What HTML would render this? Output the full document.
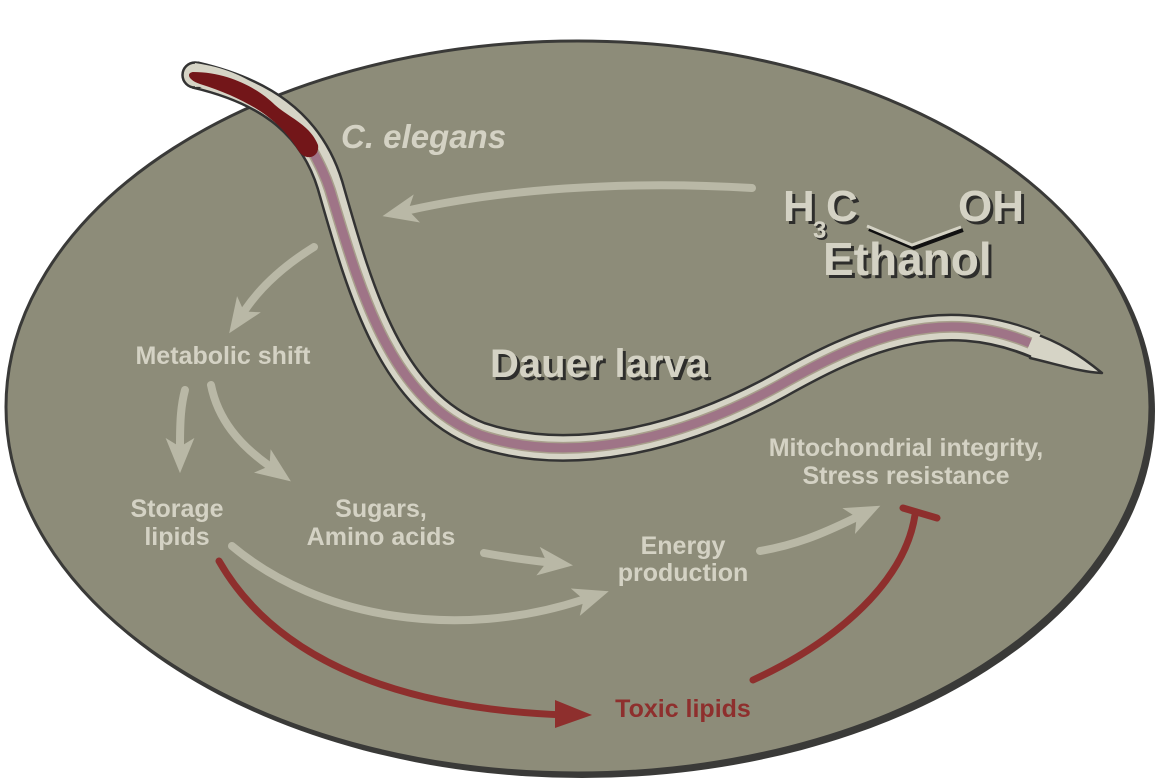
<!DOCTYPE html>
<html><head><meta charset="utf-8"><style>
html,body{margin:0;padding:0;background:#fff;}
svg{display:block;}
text{font-family:"Liberation Sans",Arial,sans-serif;font-weight:bold;}
</style></head><body>
<svg width="1157" height="781" viewBox="0 0 1157 781" xmlns="http://www.w3.org/2000/svg">
<defs>
<marker id="ag" markerWidth="4.4" markerHeight="3.6" refX="2" refY="5" orient="auto" markerUnits="strokeWidth" viewBox="0 0 10 10" preserveAspectRatio="none"><path d="M0,0 L10,5 L0,10 L2.5,5 Z" fill="#b9b8a6"/></marker>
</defs>
<ellipse cx="582" cy="411" rx="573" ry="367" fill="#3a3a38"/>
<ellipse cx="578" cy="407" rx="572" ry="366" fill="#8d8c79" stroke="#3a3a38" stroke-width="3"/>

<!-- worm -->
<path d="M1030,332 C1060,342 1080,355 1102,373 C1080,372 1060,365 1030,358 Z" fill="#d6d4c6" stroke="#333" stroke-width="2.5" stroke-linejoin="round"/>
<g fill="none" stroke-linecap="butt">
<path d="M195,75 C260,90 310,120 330,185 C360,290 390,400 480,435 C570,465 680,440 780,385 C860,340 940,305 1035,345" stroke="#333" stroke-width="28"/>
<path d="M195,75 C260,90 310,120 330,185 C360,290 390,400 480,435 C570,465 680,440 780,385 C860,340 940,305 1036,345" stroke="#d6d4c6" stroke-width="23"/>
<path d="M312,150 C320,165 325,175 330,190 C360,290 390,400 480,435 C570,465 680,440 780,385 C860,340 940,305 1030,343" stroke="#a89f8c" stroke-width="12"/>
<path d="M312,150 C320,165 325,175 330,190 C360,290 390,400 480,435 C570,465 680,440 780,385 C860,340 940,305 1030,343" stroke="#9f7487" stroke-width="9"/>
</g>
<path d="M188,70 C185,66 195,62 205,64" fill="none" stroke="#333" stroke-width="1"/>
<circle cx="195" cy="75" r="12.5" fill="#d6d4c6" stroke="#333" stroke-width="2.5"/>
<path d="M195,63 C230,68 250,80 260,88 L250,103 C230,92 210,86 195,87 Z" fill="#d6d4c6"/>
<path d="M193,72 C230,72 260,90 275,105 C290,118 310,125 318,145 C320,158 305,162 298,150 C280,120 250,100 200,84 C188,80 186,73 193,72 Z" fill="#731619"/>

<!-- arrows -->
<g fill="none" stroke="#b9b8a6" stroke-width="8" stroke-linecap="round">
<path d="M752,188 C620,180 500,190 410,210" marker-end="url(#ag)"/>
<path d="M314,247 C285,265 262,285 245,310" marker-end="url(#ag)"/>
<path d="M185,390 C181,405 180,420 180,445" marker-end="url(#ag)"/>
<path d="M211,385 C218,420 240,445 268,465" marker-end="url(#ag)"/>
<path d="M484,553 C505,557 520,559 545,562" marker-end="url(#ag)"/>
<path d="M232,546 C320,620 460,640 582,600" marker-end="url(#ag)"/>
<path d="M760,551 C795,545 820,535 855,518" marker-end="url(#ag)"/>
</g>
<!-- red arrows -->
<g fill="none" stroke="#8e2f2d" stroke-width="7" stroke-linecap="round">
<path d="M219,561 C270,650 380,708 565,715"/>
<path d="M753,680 C840,640 905,580 915,515"/>
<path d="M903,508 L937,518"/>
</g>
<path d="M555,700 L592,715 L555,728 Z" fill="#8e2f2d"/>

<!-- labels -->
<g fill="#d4d2c4" font-size="25" text-anchor="middle">
<text x="223" y="364">Metabolic shift</text>
<text x="177" y="517">Storage</text>
<text x="177" y="545">lipids</text>
<text x="381" y="517">Sugars,</text>
<text x="381" y="545">Amino acids</text>
<text x="683" y="554">Energy</text>
<text x="683" y="581">production</text>
<text x="906" y="456">Mitochondrial integrity,</text>
<text x="906" y="484">Stress resistance</text>
</g>
<text x="683" y="717" fill="#8e2f2d" font-size="25" text-anchor="middle">Toxic lipids</text>
<text x="341" y="148" fill="#d4d2c4" font-size="33" font-style="italic">C. elegans</text>

<g font-size="40">
<text x="493" y="380" fill="#2e2e2c">Dauer larva</text>
<text x="490" y="377" fill="#d4d2c4">Dauer larva</text>
</g>
<g font-size="44">
<text x="786" y="224" fill="#2e2e2c">H</text><text x="783" y="221" fill="#d4d2c4">H</text>
<text x="829" y="224" fill="#2e2e2c">C</text><text x="826" y="221" fill="#d4d2c4">C</text>
<text x="961" y="224" fill="#2e2e2c">OH</text><text x="958" y="221" fill="#d4d2c4">OH</text>
</g>
<g font-size="46">
<text x="826" y="278" fill="#2e2e2c">Ethanol</text><text x="823" y="275" fill="#d4d2c4">Ethanol</text>
</g>
<text x="815" y="240" fill="#2e2e2c" font-size="24">3</text><text x="813" y="238" fill="#d4d2c4" font-size="24">3</text>
<path d="M869,229 L914,248 L963,230" fill="none" stroke="#111" stroke-width="4"/>
<path d="M867,226 L912,245 L961,227" fill="none" stroke="#d4d2c4" stroke-width="3"/>
</svg>
</body></html>
